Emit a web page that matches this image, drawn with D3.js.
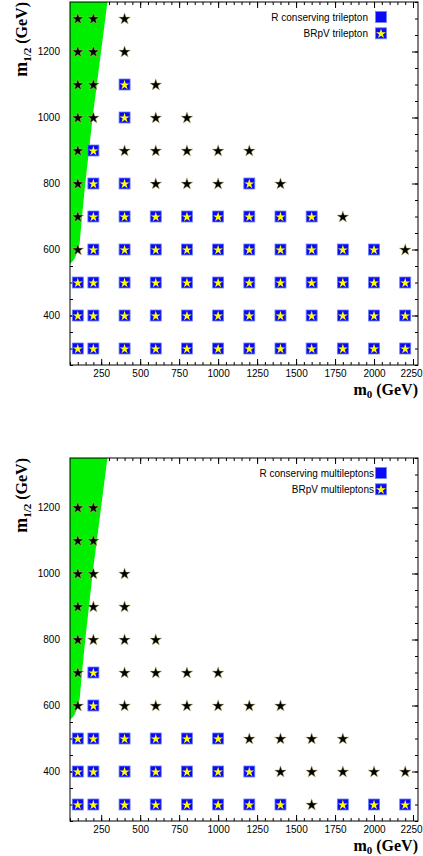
<!DOCTYPE html>
<html><head><meta charset="utf-8">
<script src="https://cdn.jsdelivr.net/npm/d3@7"></script>
<style>body{margin:0;background:#fff}svg{display:block}</style>
</head><body>
<svg id="c" width="423" height="856"></svg>
<script>
// ---- data ----
const m0Values = [100, 200, 400, 600, 800, 1000, 1200, 1400, 1600, 1800, 2000, 2200];
const m12Values = [1300, 1200, 1100, 1000, 900, 800, 700, 600, 500, 400, 300];
// one code per m0 value: S = black star, B = blue box (R conserving) with yellow star (BRpV), . = none
const trileptonRows = [
  "SSS.........",
  "SSS.........",
  "SSBS........",
  "SSBSS.......",
  "SBSSSSS.....",
  "SBBSSSBS....",
  "SBBBBBBBBS..",
  "SBBBBBBBBBBS",
  "BBBBBBBBBBBB",
  "BBBBBBBBBBBB",
  "BBBBBBBBBBBB"
];
const multileptonRows = [
  "............",
  "SS..........",
  "SS..........",
  "SSS.........",
  "SSS.........",
  "SSSS........",
  "SBSSSS......",
  "SBSSSSSS....",
  "BBBBBBSSSS..",
  "BBBBBBBSSSSS",
  "BBBBBBBBSBBB"
];
// excluded (green) region boundary: [m1/2, m0]
const greenEdge = [[1350, 290], [1000, 195], [800, 148], [700, 127], [620, 112], [590, 96], [570, 76], [556, 50]];
const xTickLabels = [250, 500, 750, 1000, 1250, 1500, 1750, 2000, 2250];
const yTickLabels = [400, 600, 800, 1000, 1200];
const xDomain = [50, 2282];
const yDomain = [250, 1350];
const legendTop = ["R conserving trilepton", "BRpV trilepton"];
const legendBottom = ["R conserving multileptons", "BRpV multileptons"];

// ---- drawing ----
const svg = d3.select("#c");
const L = 70, R = 418;
const panels = [
  {top: 2, bottom: 365, rows: trileptonRows, legend: legendTop, legEnd: 368},
  {top: 458, bottom: 821, rows: multileptonRows, legend: legendBottom, legEnd: 374}
];
const sans = "'Liberation Sans', Arial, Helvetica, sans-serif";
const serif = "'Liberation Serif', 'Times New Roman', serif";
const starBig = d3.symbol().type(d3.symbolStar).size(44)();
const starSmall = d3.symbol().type(d3.symbolStar).size(30)();

function marker(g, code, cx, cy) {
  const m = g.append("g").attr("transform", `translate(${cx},${cy})`);
  if (code === "B") {
    m.append("rect").attr("x", -5.5).attr("y", -5.5).attr("width", 11).attr("height", 11)
      .attr("fill", "#0a0af5").attr("stroke", "#6f80ff").attr("stroke-width", 0.8);
    m.append("path").attr("d", starSmall).attr("fill", "#ffff00").attr("transform", "translate(0,0.5)");
  } else if (code === "S") {
    m.append("path").attr("d", starBig).attr("fill", "#000").attr("transform", "translate(0,0.5)")
      .attr("stroke", "#cfc678").attr("stroke-width", 0.5);
  }
}

panels.forEach(p => {
  const x = d3.scaleLinear().domain(xDomain).range([L, R]);
  const y = d3.scaleLinear().domain(yDomain).range([p.bottom, p.top]);
  const g = svg.append("g");

  const minorX = d3.range(50, 2281, 50);
  const minorY = d3.range(250, 1351, 50);
  function axis(gen, tr, vals, size, labels, pad) {
    const a = g.append("g").attr("transform", tr)
      .call(gen.tickValues(vals).tickSize(size).tickPadding(pad || 3)
        .tickFormat(labels ? d3.format("d") : ""));
    a.select(".domain").remove();
    a.attr("font-family", sans).attr("font-size", 10);
    a.selectAll("line").attr("stroke", "#000");
    a.selectAll("text").attr("fill", "#000");
    return a;
  }
  axis(d3.axisBottom(x), `translate(0,${p.bottom})`, minorX, -3, false);
  const xa = axis(d3.axisBottom(x), `translate(0,${p.bottom})`, xTickLabels, -6, true, 4.5);
  xa.selectAll("text").filter(d => d === 2250).attr("dx", -2);
  axis(d3.axisTop(x), `translate(0,${p.top})`, minorX, -3, false);
  axis(d3.axisTop(x), `translate(0,${p.top})`, xTickLabels, -6, false);
  axis(d3.axisLeft(y), `translate(${L},0)`, minorY, -3, false);
  axis(d3.axisLeft(y), `translate(${L},0)`, yTickLabels, -6, true, 10);
  axis(d3.axisRight(y), `translate(${R},0)`, minorY, -3, false);
  axis(d3.axisRight(y), `translate(${R},0)`, yTickLabels, -6, false);

  // green excluded region
  const poly = [[xDomain[0], yDomain[1]]].concat(greenEdge.map(d => [d[1], d[0]]));
  g.append("path")
    .attr("d", d3.line().x(d => x(d[0])).y(d => y(d[1]))(poly) + "Z")
    .attr("fill", "#00ee00");

  // frame
  g.append("rect").attr("x", L).attr("y", p.top).attr("width", R - L).attr("height", p.bottom - p.top)
    .attr("fill", "none").attr("stroke", "#000").attr("stroke-width", 1);

  // markers
  p.rows.forEach((row, i) => {
    row.split("").forEach((c, j) => {
      if (c !== ".") marker(g, c, x(m0Values[j]), y(m12Values[i]));
    });
  });

  // legend
  p.legend.forEach((t, i) => {
    const cy = p.top + 15 + i * 16.3;
    g.append("text").attr("x", p.legEnd).attr("y", cy + 3.5).attr("text-anchor", "end")
      .attr("font-family", sans).attr("font-size", 10).attr("fill", "#000").text(t);
    g.append("rect").attr("x", 375.5).attr("y", cy - 5.5).attr("width", 11).attr("height", 11)
      .attr("fill", "#0a0af5").attr("stroke", "#6f80ff").attr("stroke-width", 0.8);
    if (i === 1) g.append("path").attr("transform", `translate(381,${cy + 0.5})`).attr("d", starSmall).attr("fill", "#ffff00");
  });

  // x title
  const xt = g.append("text").attr("x", R).attr("y", p.bottom + 30).attr("text-anchor", "end")
    .attr("font-family", serif).attr("font-weight", "bold").attr("font-size", 16).attr("fill", "#000");
  xt.append("tspan").text("m");
  xt.append("tspan").attr("font-size", 11).attr("dy", 3).text("0");
  xt.append("tspan").attr("dy", -3).text(" (GeV)");

  // y title
  const yt = g.append("text").attr("transform", `translate(27,${p.top}) rotate(-90)`).attr("text-anchor", "end")
    .attr("font-family", serif).attr("font-weight", "bold").attr("font-size", 16).attr("fill", "#000");
  yt.append("tspan").attr("font-size", 18).text("m");
  yt.append("tspan").attr("font-size", 11).attr("dy", 4).text("1/2");
  yt.append("tspan").attr("dy", -4).text(" (GeV)");
});
</script>
</body></html>
